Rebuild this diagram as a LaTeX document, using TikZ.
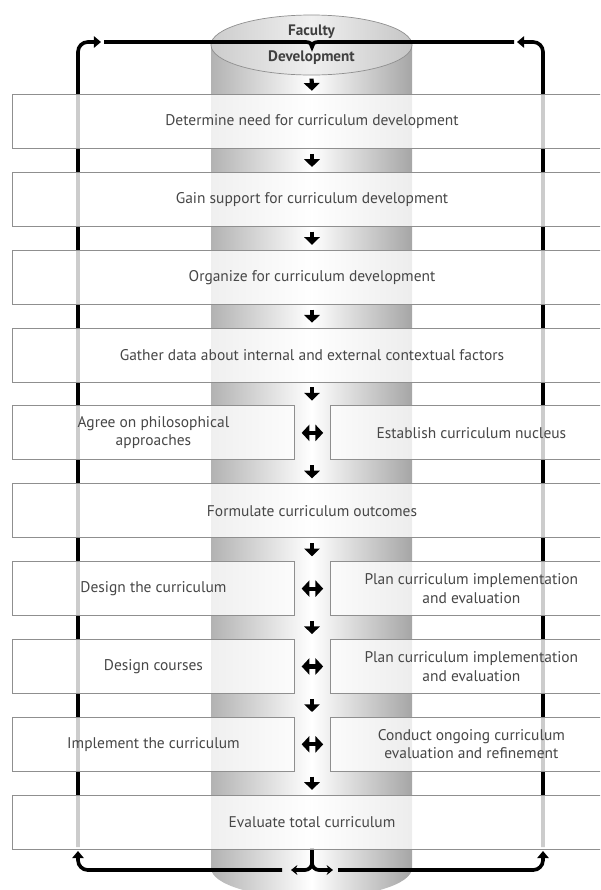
\documentclass[tikz,border=0pt]{standalone}
\usepackage{fontspec}
\setmainfont{PT Sans}
\usetikzlibrary{arrows.meta,positioning,shapes.geometric}
\definecolor{cdtext}{HTML}{474747}
\definecolor{cdframe}{HTML}{8F8F8F}
\definecolor{cdedge}{HTML}{A3A3A3}

\begin{document}
\begin{tikzpicture}[x=0.025cm, y=-0.025cm, node distance=0.575cm,
  stage/.style={draw=cdframe, line width=0.6pt, fill=white, fill opacity=0.8,
    text opacity=1, text=cdtext, minimum width=14.975cm, minimum height=1.35cm,
    inner sep=0pt, align=center, font=\fontsize{11}{13}\selectfont},
  half/.style={stage, minimum width=7.05cm},
  flow/.style={line width=3pt, -{Triangle[length=5.5pt, width=11pt]},
    shorten <=3.5pt, shorten >=3.5pt},
  swap/.style={line width=3pt,
    {Triangle[length=5.5pt, width=11.5pt]}-{Triangle[length=5.5pt, width=11.5pt]},
    shorten <=4.8pt, shorten >=4.8pt},
  loopline/.style={line width=2.6pt, rounded corners=7pt,
    -{Triangle[length=5pt, width=8pt]}},
  brace/.style={line width=2.6pt, rounded corners=5pt,
    -{Stealth[length=4.5pt, width=7pt]}}]
  \useasboundingbox (0,0) rectangle (600,890);
  \clip (0,0) rectangle (600,890);

  % Cylinder
  \shade[left color=gray!60, right color=gray!70, middle color=white]
    (211,45) -- (211,868) arc[start angle=180, end angle=360,
    x radius=2.5125cm, y radius=0.75cm] -- (412,45) -- cycle;
  \node[ellipse, draw=cdframe, line width=0.5pt, left color=gray!40,
    right color=gray!45, middle color=gray!12, minimum width=5.025cm,
    minimum height=1.5cm, inner sep=0pt, align=center, text=black!75,
    font=\bfseries\fontsize{10.8}{18.5}\selectfont] (faculty) at (311.5,45)
    {Faculty\\Development};

  % Feedback loop
  \coordinate (footL) at (282,870);
  \coordinate (riseL) at (78,851);
  \coordinate (baseL) at (78,847);
  \coordinate (tipL) at (101,42);
  \coordinate (footR) at (338,870);
  \coordinate (riseR) at (543,851);
  \coordinate (baseR) at (543,847);
  \coordinate (tipR) at (517,42);
  \coordinate (barL) at (104,42);
  \coordinate (barR) at (514,42);
  \coordinate (stem) at (312,848);
  \coordinate (forkL) at (291,870);
  \coordinate (forkR) at (333,870);

  \draw[loopline] (footL) -| (riseL);
  \draw[loopline] (baseL) |- (tipL);
  \draw[loopline] (footR) -| (riseR);
  \draw[loopline] (baseR) |- (tipR);
  \draw[line width=2.6pt] (barL) -- (306,42) .. controls (310,42) and (312,44) .. (312,47)
    .. controls (312,44) and (314,42) .. (318,42) -- (barR);
  \draw[brace] (stem) |- (forkL);
  \draw[brace] (stem) |- (forkR);

  % Steps
  \node[stage, anchor=north west] (need) at (12,94) {Determine need for curriculum development};
  \node[stage, below=of need] (support) {Gain support for curriculum development};
  \node[stage, below=of support] (organize) {Organize for curriculum development};
  \node[stage, below=of organize] (gather) {Gather data about internal and external contextual factors};
  \node[half, below=of gather.south west, anchor=north west] (agree) {Agree on philosophical\\approaches};
  \node[half, right=0.875cm of agree] (nucleus) {Establish curriculum nucleus};
  \node[stage, below=of agree.south west, anchor=north west] (outcomes) {Formulate curriculum outcomes};
  \node[half, below=of outcomes.south west, anchor=north west] (design) {Design the curriculum};
  \node[half, right=0.875cm of design] (plan) {Plan curriculum implementation\\and evaluation};
  \node[half, below=of design] (courses) {Design courses};
  \node[half, right=0.875cm of courses] (plantwo) {Plan curriculum implementation\\and evaluation};
  \node[half, below=of courses] (implement) {Implement the curriculum};
  \node[half, right=0.875cm of implement] (conduct) {Conduct ongoing curriculum\\evaluation and refinement};
  \node[stage, below=of implement.south west, anchor=north west] (evaluate) {Evaluate total curriculum};

  % Arrows
  \draw[flow, shorten <=2.3pt, shorten >=2.3pt] (faculty.south) -- (need.north);
  \draw[flow] (need.south) -- (support.north);
  \draw[flow] (support.south) -- (organize.north);
  \draw[flow] (organize.south) -- (gather.north);
  \draw[flow] (gather.south) -- (gather.south |- agree.north);
  \draw[swap] (agree) -- (nucleus);
  \draw[flow] (outcomes.north |- agree.south) -- (outcomes.north);
  \draw[flow] (outcomes.south) -- (outcomes.south |- design.north);
  \draw[swap] (design) -- (plan);
  \draw[flow] (outcomes.south |- design.south) -- (outcomes.south |- courses.north);
  \draw[swap] (courses) -- (plantwo);
  \draw[flow] (outcomes.south |- courses.south) -- (outcomes.south |- implement.north);
  \draw[swap] (implement) -- (conduct);
  \draw[flow] (evaluate.north |- implement.south) -- (evaluate.north);
\end{tikzpicture}
\end{document}
